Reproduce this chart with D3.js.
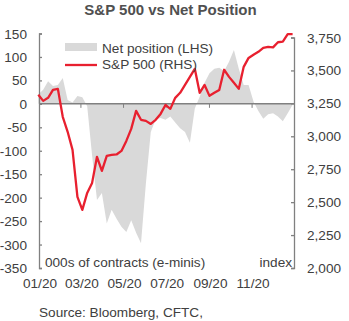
<!DOCTYPE html>
<html>
<head>
<meta charset="utf-8">
<script src="https://cdn.jsdelivr.net/npm/d3@7"></script>
<style>
body { margin: 0; background: #fff; }
text { font-family: "Liberation Sans", Arial, sans-serif; fill: #404040; }
</style>
</head>
<body>
<script>
// weekly observations, 31 Dec 2019 .. 29 Dec 2020
var netPosition = [20, 30, 48, 38, 40, 55, 8, 3, 17, 14,
  -5, -110, -205, -190, -255, -226, -245, -262, -273, -248,
  -275, -297, -170, -60, -33, -30, -34, -27, -40, -52,
  -60, -83, -10, 15, 45, 65, 75, 77, 70, 90,
  115, 75, 40, 40, 5, -15, -32, -22, -20, -27,
  -37, -20, -2];
var spx = [3315, 3269, 3292, 3352, 3360, 3148, 3034, 2897, 2540, 2441,
  2570, 2646, 2844, 2737, 2851, 2859, 2862, 2889, 2965, 3056,
  3193, 3125, 3117, 3094, 3125, 3170, 3238, 3208, 3292, 3330,
  3390, 3451, 3512, 3330, 3390, 3307, 3330, 3352, 3505, 3451,
  3406, 3360, 3527, 3595, 3619, 3641, 3671, 3679, 3675, 3714,
  3718, 3775, 3775];
var leftTicks = [150, 100, 50, 0, -50, -100, -150, -200, -250, -300, -350];
var rightTicks = [3750, 3500, 3250, 3000, 2750, 2500, 2250, 2000];
var monthTicks = ["2020-01-01", "2020-03-01", "2020-05-01", "2020-07-01", "2020-09-01", "2020-11-01"];

var parse = d3.timeParse("%Y-%m-%d");
var start = parse("2019-12-31");
var dates = netPosition.map((d, i) => d3.timeDay.offset(start, i * 7));

var svg = d3.select('body').append('svg')
  .attr('width', 349)
  .attr('height', 321);

var x = d3.scaleTime().domain([parse("2020-01-01"), parse("2020-12-31")]).range([39, 294]);
var yL = d3.scaleLinear().domain([-350, 150]).range([268, 33.5]);
var yR = d3.scaleLinear().domain([2000, 3750]).range([268, 37.5]);

var axisColor = '#808080';
var fs = '13.6px';

// net position area
svg.append('path')
  .datum(netPosition)
  .attr('fill', '#d9d9d9')
  .attr('d', d3.area()
    .x((d, i) => x(dates[i]))
    .y0(yL(0))
    .y1(d => yL(d)));

// zero line with month ticks
svg.append('line')
  .attr('x1', 39).attr('x2', 294)
  .attr('y1', yL(0)).attr('y2', yL(0))
  .attr('stroke', axisColor).attr('stroke-width', 1.5);

var xTicks = monthTicks.map(parse);
svg.selectAll('.xtick').data(xTicks.slice(1)).enter().append('line')
  .attr('x1', d => x(d)).attr('x2', d => x(d))
  .attr('y1', yL(0)).attr('y2', yL(0) + 4)
  .attr('stroke', axisColor).attr('stroke-width', 1);

svg.selectAll('.xlab').data(xTicks).enter().append('text')
  .attr('x', d => x(d) + 1)
  .attr('y', 288)
  .attr('text-anchor', 'middle')
  .style('font-size', fs)
  .text(d3.timeFormat("%m/%y"));

// left axis
var gL = svg.append('g').attr('transform', 'translate(39,0)');
gL.call(d3.axisRight(yL).tickValues(leftTicks).tickSize(3).tickFormat(''));
gL.selectAll('path, line').attr('stroke', axisColor).attr('stroke-width', 1.3);
svg.selectAll('.ylab').data(leftTicks).enter().append('text')
  .attr('x', 27)
  .attr('y', d => yL(d) + 5)
  .attr('text-anchor', 'end')
  .style('font-size', fs)
  .text(d => d);

// right axis
var gR = svg.append('g').attr('transform', 'translate(294,0)');
gR.call(d3.axisLeft(yR).tickValues(rightTicks).tickSize(3).tickFormat(''));
gR.selectAll('path, line').attr('stroke', axisColor).attr('stroke-width', 1.3);
svg.selectAll('.rlab').data(rightTicks).enter().append('text')
  .attr('x', 307)
  .attr('y', d => yR(d) + 5)
  .style('font-size', fs)
  .text(d3.format(","));

// S&P line
svg.append('path')
  .datum(spx)
  .attr('fill', 'none')
  .attr('stroke', '#e8202f')
  .attr('stroke-width', 2.3)
  .attr('stroke-linejoin', 'round')
  .attr('d', d3.line()
    .x((d, i) => x(dates[i]))
    .y(d => yR(d)));

// title
svg.append('text')
  .attr('x', 170.5).attr('y', 15)
  .attr('text-anchor', 'middle')
  .style('font-size', '15px').style('font-weight', 'bold')
  .style('fill', '#505050')
  .text('S&P 500 vs Net Position');

// legend
svg.append('rect').attr('x', 65).attr('y', 43).attr('width', 32).attr('height', 8).attr('fill', '#d9d9d9');
svg.append('text').attr('x', 102).attr('y', 53).style('font-size', fs).text('Net position (LHS)');
svg.append('line').attr('x1', 65).attr('x2', 97).attr('y1', 65).attr('y2', 65)
  .attr('stroke', '#e8202f').attr('stroke-width', 2.3);
svg.append('text').attr('x', 102).attr('y', 69).style('font-size', fs).text('S&P 500 (RHS)');

// unit notes
svg.append('text').attr('x', 45).attr('y', 266.5).style('font-size', fs).text('000s of contracts (e-minis)');
svg.append('text').attr('x', 292).attr('y', 266.5).attr('text-anchor', 'end').style('font-size', fs).text('index');

// source
svg.append('text').attr('x', 39).attr('y', 317).style('font-size', fs).text('Source: Bloomberg, CFTC,');
</script>
</body>
</html>
